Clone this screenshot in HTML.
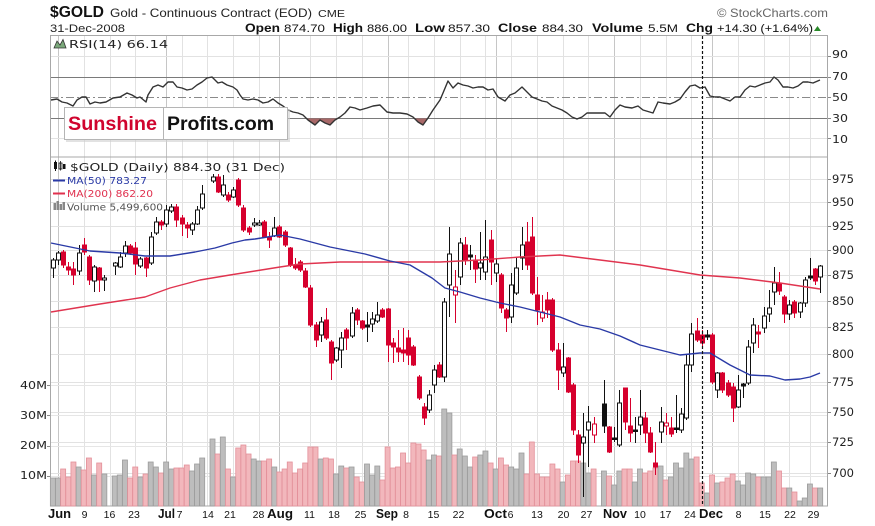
<!DOCTYPE html>
<html>
<head>
<meta charset="utf-8">
<style>
  html,body{margin:0;padding:0;background:#fff;}
  svg{display:block;}
  .ls{font-family:"Liberation Sans",Arial,sans-serif;}
  .dv{font-family:"DejaVu Sans",Verdana,sans-serif;}
</style>
</head>
<body>
<svg id="c" width="875" height="526" viewBox="0 0 875 526" xmlns="http://www.w3.org/2000/svg">
  <rect x="0" y="0" width="875" height="526" fill="#fff"/>
  <g id="grid"></g>
  <!-- panel borders -->
  <rect x="50.5" y="35.5" width="777" height="121.5" fill="none" stroke="#a8a8a8" stroke-width="1"/>
  <rect x="50.5" y="157" width="777" height="349" fill="none" stroke="#a8a8a8" stroke-width="1"/>
  <g id="dyn"></g>

  <!-- header -->
  <text class="ls" x="50" y="17" font-size="16" font-weight="bold" fill="#111" textLength="54" lengthAdjust="spacingAndGlyphs">$GOLD</text>
  <text class="ls" x="110" y="17" font-size="12" fill="#222" textLength="202" lengthAdjust="spacingAndGlyphs">Gold - Continuous Contract (EOD)</text>
  <text class="ls" x="318" y="17" font-size="10" fill="#222" textLength="27" lengthAdjust="spacingAndGlyphs">CME</text>
  <text class="ls" x="717" y="17" font-size="12" fill="#666" textLength="111" lengthAdjust="spacingAndGlyphs">© StockCharts.com</text>
  <text class="ls" x="50" y="32" font-size="11" fill="#222" textLength="75" lengthAdjust="spacingAndGlyphs">31-Dec-2008</text>
  <g class="ls" fill="#111">
    <text x="245" y="32" font-size="12" font-weight="bold" textLength="35" lengthAdjust="spacingAndGlyphs">Open</text>
    <text x="284" y="32" font-size="11" textLength="41" lengthAdjust="spacingAndGlyphs">874.70</text>
    <text x="333" y="32" font-size="12" font-weight="bold" textLength="30" lengthAdjust="spacingAndGlyphs">High</text>
    <text x="367" y="32" font-size="11" textLength="40" lengthAdjust="spacingAndGlyphs">886.00</text>
    <text x="415" y="32" font-size="12" font-weight="bold" textLength="30" lengthAdjust="spacingAndGlyphs">Low</text>
    <text x="448" y="32" font-size="11" textLength="42" lengthAdjust="spacingAndGlyphs">857.30</text>
    <text x="498" y="32" font-size="12" font-weight="bold" textLength="39" lengthAdjust="spacingAndGlyphs">Close</text>
    <text x="542" y="32" font-size="11" textLength="41" lengthAdjust="spacingAndGlyphs">884.30</text>
    <text x="592" y="32" font-size="12" font-weight="bold" textLength="51" lengthAdjust="spacingAndGlyphs">Volume</text>
    <text x="648" y="32" font-size="11" textLength="30" lengthAdjust="spacingAndGlyphs">5.5M</text>
    <text x="686" y="32" font-size="12" font-weight="bold" textLength="27" lengthAdjust="spacingAndGlyphs">Chg</text>
    <text x="717" y="32" font-size="11" textLength="96" lengthAdjust="spacingAndGlyphs">+14.30 (+1.64%)</text>
  </g>
  <polygon points="814,31 821,31 817.5,26" fill="#2a8a2a"/>

  <!-- RSI label -->
  <polygon points="54,48 57,41 60,45 63,39.5 66,48" fill="#7aa87a" stroke="#333" stroke-width="0.8"/>
  <text class="dv" x="69" y="48" font-size="11" fill="#222" textLength="99" lengthAdjust="spacingAndGlyphs">RSI(14) 66.14</text>

  <!-- RSI axis -->
  <g class="dv" font-size="11" fill="#222">
    <text x="832" y="58" textLength="16" lengthAdjust="spacingAndGlyphs">90</text>
    <text x="832" y="80" textLength="16" lengthAdjust="spacingAndGlyphs">70</text>
    <text x="832" y="101" textLength="16" lengthAdjust="spacingAndGlyphs">50</text>
    <text x="832" y="122" textLength="16" lengthAdjust="spacingAndGlyphs">30</text>
    <text x="832" y="143" textLength="16" lengthAdjust="spacingAndGlyphs">10</text>
  </g>

  <!-- price axis -->
  <g class="dv" font-size="11.5" fill="#222">
    <text x="832" y="183" textLength="22" lengthAdjust="spacingAndGlyphs">975</text>
    <text x="832" y="206" textLength="22" lengthAdjust="spacingAndGlyphs">950</text>
    <text x="832" y="230" textLength="22" lengthAdjust="spacingAndGlyphs">925</text>
    <text x="832" y="254" textLength="22" lengthAdjust="spacingAndGlyphs">900</text>
    <text x="832" y="279" textLength="22" lengthAdjust="spacingAndGlyphs">875</text>
    <text x="832" y="305" textLength="22" lengthAdjust="spacingAndGlyphs">850</text>
    <text x="832" y="331" textLength="22" lengthAdjust="spacingAndGlyphs">825</text>
    <text x="832" y="358" textLength="22" lengthAdjust="spacingAndGlyphs">800</text>
    <text x="832" y="386" textLength="22" lengthAdjust="spacingAndGlyphs">775</text>
    <text x="832" y="416" textLength="22" lengthAdjust="spacingAndGlyphs">750</text>
    <text x="832" y="446" textLength="22" lengthAdjust="spacingAndGlyphs">725</text>
    <text x="832" y="477" textLength="22" lengthAdjust="spacingAndGlyphs">700</text>
  </g>

  <!-- volume axis -->
  <g class="dv" font-size="11" fill="#222">
    <text x="20" y="389" textLength="27" lengthAdjust="spacingAndGlyphs">40M</text>
    <text x="20" y="419" textLength="27" lengthAdjust="spacingAndGlyphs">30M</text>
    <text x="20" y="449" textLength="27" lengthAdjust="spacingAndGlyphs">20M</text>
    <text x="20" y="479" textLength="27" lengthAdjust="spacingAndGlyphs">10M</text>
  </g>

  <!-- date axis -->
  <g class="ls" fill="#111" text-anchor="middle">
    <text x="59.5" y="518" font-size="12.5" font-weight="bold" textLength="23" lengthAdjust="spacingAndGlyphs">Jun</text>
    <text x="84.5" y="518" font-size="10.5">9</text>
    <text x="109.5" y="518" font-size="10.5">16</text>
    <text x="134" y="518" font-size="10.5">23</text>
    <text x="166.5" y="518" font-size="12.5" font-weight="bold" textLength="17" lengthAdjust="spacingAndGlyphs">Jul</text>
    <text x="179.5" y="518" font-size="10.5">7</text>
    <text x="208" y="518" font-size="10.5">14</text>
    <text x="230" y="518" font-size="10.5">21</text>
    <text x="258.5" y="518" font-size="10.5">28</text>
    <text x="280" y="518" font-size="12.5" font-weight="bold" textLength="26" lengthAdjust="spacingAndGlyphs">Aug</text>
    <text x="309.5" y="518" font-size="10.5">11</text>
    <text x="334" y="518" font-size="10.5">18</text>
    <text x="360.5" y="518" font-size="10.5">25</text>
    <text x="387" y="518" font-size="12.5" font-weight="bold" textLength="22" lengthAdjust="spacingAndGlyphs">Sep</text>
    <text x="406" y="518" font-size="10.5">8</text>
    <text x="433.5" y="518" font-size="10.5">15</text>
    <text x="458.5" y="518" font-size="10.5">22</text>
    <text x="495.5" y="518" font-size="12.5" font-weight="bold" textLength="23" lengthAdjust="spacingAndGlyphs">Oct</text>
    <text x="510.5" y="518" font-size="10.5">6</text>
    <text x="537" y="518" font-size="10.5">13</text>
    <text x="563.5" y="518" font-size="10.5">20</text>
    <text x="586.5" y="518" font-size="10.5">27</text>
    <text x="615" y="518" font-size="12.5" font-weight="bold" textLength="24" lengthAdjust="spacingAndGlyphs">Nov</text>
    <text x="640" y="518" font-size="10.5">10</text>
    <text x="665.5" y="518" font-size="10.5">17</text>
    <text x="690" y="518" font-size="10.5">24</text>
    <text x="711" y="518" font-size="12.5" font-weight="bold" textLength="24" lengthAdjust="spacingAndGlyphs">Dec</text>
    <text x="738.5" y="518" font-size="10.5">8</text>
    <text x="765" y="518" font-size="10.5">15</text>
    <text x="790" y="518" font-size="10.5">22</text>
    <text x="813.5" y="518" font-size="10.5">29</text>
  </g>

  <!-- legend -->
  <g>
    <rect x="54" y="162" width="3" height="7" fill="#111"/>
    <line x1="55.5" y1="160.5" x2="55.5" y2="171" stroke="#111"/>
    <rect x="59" y="163" width="3" height="6" fill="#fff" stroke="#111" stroke-width="0.8"/>
    <line x1="60.5" y1="161" x2="60.5" y2="170.5" stroke="#111" stroke-width="0.8"/>
    <rect x="63" y="164" width="2.5" height="5" fill="#111"/>
    <text class="dv" x="70" y="171" font-size="11" fill="#222" textLength="215" lengthAdjust="spacingAndGlyphs">$GOLD (Daily) 884.30 (31 Dec)</text>
    <line x1="53" y1="180.5" x2="65" y2="180.5" stroke="#2a3aa6" stroke-width="2"/>
    <text class="dv" x="67" y="184" font-size="9.5" fill="#2a3aa6" textLength="80" lengthAdjust="spacingAndGlyphs">MA(50) 783.27</text>
    <line x1="53" y1="193.5" x2="65" y2="193.5" stroke="#e0304e" stroke-width="2"/>
    <text class="dv" x="67" y="197" font-size="9.5" fill="#e0304e" textLength="86" lengthAdjust="spacingAndGlyphs">MA(200) 862.20</text>
    <rect x="53.5" y="203" width="2.5" height="7" fill="#888"/>
    <rect x="56.5" y="201" width="2.5" height="9" fill="#888"/>
    <rect x="59.5" y="204" width="2.5" height="6" fill="#888"/>
    <rect x="62.5" y="202" width="2.5" height="8" fill="#888"/>
    <text class="dv" x="67" y="210.5" font-size="9.5" fill="#555" textLength="96" lengthAdjust="spacingAndGlyphs">Volume 5,499,600</text>
  </g>

  <!-- dashed vertical -->
  <line x1="702.5" y1="36" x2="702.5" y2="506" stroke="#111" stroke-width="1.2" stroke-dasharray="3,2"/>

  <!-- logo box -->
  <rect x="66" y="109" width="224" height="33" fill="#cfcfcf" opacity="0.6"/>
  <rect x="64.5" y="107.5" width="223" height="32" fill="#fff" stroke="#b5b5b5" stroke-width="1"/>
  <line x1="163.5" y1="108" x2="163.5" y2="139" stroke="#b5b5b5" stroke-width="1"/>
  <text class="ls" x="68" y="130" font-size="19.5" font-weight="bold" fill="#d0042e" textLength="89" lengthAdjust="spacingAndGlyphs">Sunshine</text>
  <text class="ls" x="167" y="130" font-size="19.5" font-weight="bold" fill="#111" textLength="107" lengthAdjust="spacingAndGlyphs">Profits.com</text>
</svg>

<script>
(function(){
var NS="http://www.w3.org/2000/svg";
function el(parent,tag,attrs){var e=document.createElementNS(NS,tag);for(var k in attrs)e.setAttribute(k,attrs[k]);parent.appendChild(e);return e;}
var grid=document.getElementById('grid');
var dyn=document.getElementById('dyn');
function X(i){return 58+5.15*i;}

// vertical grid
var months=[0,21,43,64,85,108,127];
var weeks=[5,10,15,24,29,34,39,49,54,59,68,73,78,83,88,93,98,103,113,118,123,132,137,142,146];
weeks.forEach(function(i){var x=Math.round(X(i))+0.5;el(grid,'line',{x1:x,y1:36,x2:x,y2:506,stroke:'#e2e2e2','stroke-width':1});});
months.forEach(function(i){var x=Math.round(X(i))+0.5;el(grid,'line',{x1:x,y1:36,x2:x,y2:506,stroke:'#c6c6c6','stroke-width':1});});
// horizontal price grid
[179,202,226,250,275,301,327,354,382,412,442,473].forEach(function(y){
  el(grid,'line',{x1:50,y1:y+0.5,x2:828,y2:y+0.5,stroke:'#e2e2e2','stroke-width':1});
  el(grid,'line',{x1:828,y1:y+0.5,x2:831,y2:y+0.5,stroke:'#888','stroke-width':1});
});
[385,415,446,476].forEach(function(y){
  el(grid,'line',{x1:50,y1:y+0.5,x2:828,y2:y+0.5,stroke:'#e6e6e6','stroke-width':1});
  el(grid,'line',{x1:47,y1:y+0.5,x2:50,y2:y+0.5,stroke:'#888','stroke-width':1});
});
// RSI grid
[56,138].forEach(function(y){el(grid,'line',{x1:50,y1:y+0.5,x2:828,y2:y+0.5,stroke:'#e2e2e2','stroke-width':1});});
[77,118].forEach(function(y){el(grid,'line',{x1:50,y1:y+0.5,x2:828,y2:y+0.5,stroke:'#7a7a7a','stroke-width':1});});
el(grid,'line',{x1:50,y1:97.5,x2:828,y2:97.5,stroke:'#8a8a8a','stroke-width':1,'stroke-dasharray':'8,3,2,3'});
[56,77,97,118,138].forEach(function(y){el(grid,'line',{x1:828,y1:y+0.5,x2:831,y2:y+0.5,stroke:'#888','stroke-width':1});});

// volume
var vol="478g 478g 469p 477p 462p 467g 470p 458p 475g 463p 474g - 476g 475g 460g 478p 467p 477g 474p 462g 467g 473p 462g 469g 468p 468p 465p 471g 464g 458g - 439g 454p 437g 469p 477g 448p 445p 454p 459g 461g 461p 459p 467g 472p 469p 462p 473p 469p 463p 447p 447p 459g 458p 459p 474g 466g 468p 467g 477p 482p 464g 475g 466g 480p 447p 468p 467p 453p 463p 443p 444p 450p 460g 455g 456p 409g 413g 455p 449g 456g 467g 457p 455g 451g 463p 469g 458p 465p 467g 469g 453g 474p 442p 474p 477p 477p 464p 469p 482g 475p 461p 461p 463g 473g 469p - 471g 476p 485g 471g 469p 469p 482g 469g 473p 471p 468p 466g 480p 477g 463g 468g 453g 459g 457p 483p 493g 475p 483g 482p 478p 474p 481g 485g 473g 474g 477p 477g 477g 462g 471p 488p 488g 492p 501g 498g 484g 488p 488g".split(' ');
vol.forEach(function(v,k){
  if(v==='-')return;
  var i=k-1, top=parseFloat(v), c=v.slice(-1);
  var x=X(i)-2.5;
  el(dyn,'rect',{x:x.toFixed(2),y:top,width:5,height:506-top,
    fill:c==='g'?'#bdbdbd':'#f2b7bc',stroke:c==='g'?'#9c9c9c':'#e3909a','stroke-width':0.8});
});

// RSI fill + line
var rsi=[[51,100],[57,99],[62,102],[67,103],[73,106],[77,100],[82,97],[86,97],[90,104],[95,102],[100,103],[106,102],[113,98],[120,97],[127,93],[132,95],[137,98],[140,97],[146,102],[148,95],[153,87],[158,85],[163,87],[168,82],[173,82],[177,87],[182,88],[187,90],[192,89],[197,85],[202,82],[207,78],[212,77],[215,80],[218,83],[222,82],[227,85],[230,86],[233,87],[237,90],[240,95],[243,99],[248,100],[253,99],[258,100],[263,103],[268,102],[273,99],[278,103],[283,106],[288,110],[293,112],[298,113],[303,115],[308,120],[315,125],[320,120],[325,123],[330,125],[335,120],[340,117],[345,113],[350,107],[355,108],[360,110],[367,108],[373,106],[380,105],[387,112],[393,113],[400,113],[407,114],[413,117],[418,122],[423,125],[428,118],[433,110],[440,100],[443,93],[448,81],[453,88],[458,83],[463,85],[468,86],[473,88],[478,87],[483,87],[488,90],[493,89],[498,97],[505,101],[510,95],[515,93],[522,87],[527,92],[532,97],[537,99],[542,101],[547,102],[552,106],[557,108],[562,110],[567,113],[572,117],[577,119],[582,117],[587,113],[593,113],[600,113],[605,113],[610,117],[615,110],[620,105],[625,107],[632,108],[638,106],[643,110],[653,113],[658,102],[663,103],[670,104],[675,102],[680,99],[685,92],[690,86],[695,85],[700,88],[705,87],[710,96],[715,97],[720,97],[725,99],[730,101],[735,97],[740,97],[745,90],[750,86],[755,87],[760,85],[765,83],[770,82],[774,77],[778,80],[783,87],[788,87],[793,88],[798,86],[803,82],[808,82],[813,83],[820,80]];
var defs=el(dyn,'defs',{});
var cp=el(defs,'clipPath',{id:'below30'});
el(cp,'rect',{x:50,y:118.5,width:778,height:38});
var pts=rsi.map(function(p){return p[0]+','+p[1];}).join(' ');
el(dyn,'polygon',{points:'51,118.5 '+pts+' 820,118.5',fill:'#a86868','clip-path':'url(#below30)'});
el(dyn,'polyline',{points:pts,fill:'none',stroke:'#333','stroke-width':1.4,'stroke-linejoin':'round'});

// candles
var C=[[-1,'u',260,268,258,278],[0,'u',253,260,251,265],[1,'d',252,265,250,268],[2,'d',267,270,262,275],[3,'d',269,275,262,285],[4,'u',253,271,245,275],[5,'d',245,252,238,255],[6,'d',257,280,255,285],[7,'u',267,281,265,292],[8,'d',268,280,267,292],[9,'u',278,280,275,291],[11,'u',263,266,262,275],[12,'u',257,267,252,268],[13,'u',246,253,241,257],[14,'d',246,253,244,255],[15,'d',248,264,242,275],[16,'u',259,266,257,268],[17,'d',258,268,257,277],[18,'u',237,263,232,265],[19,'u',222,233,217,235],[20,'d',222,225,220,230],[21,'u',210,224,205,227],[22,'u',207,211,204,213],[23,'d',207,220,204,227],[24,'d',218,224,215,236],[25,'d',225,228,222,238],[26,'u',224,230,222,235],[27,'u',210,224,206,225],[28,'u',194,208,185,210],[30,'u',177,181,174,183],[31,'d',177,192,174,193],[32,'u',185,195,175,197],[33,'d',195,200,192,202],[34,'u',190,197,187,198],[35,'d',180,205,178,207],[36,'d',208,230,205,232],[37,'d',228,232,226,235],[38,'u',223,225,218,227],[39,'u',223,225,220,226],[40,'d',222,237,220,238],[41,'d',237,240,232,248],[42,'u',228,236,217,237],[43,'d',227,237,225,238],[44,'d',232,245,230,247],[45,'d',248,265,247,267],[46,'d',265,268,258,270],[47,'d',262,270,260,272],[48,'d',271,287,268,288],[49,'d',288,325,285,327],[50,'d',325,340,322,347],[51,'u',322,335,317,342],[52,'d',320,338,308,340],[53,'d',342,363,340,380],[54,'u',348,360,347,362],[55,'u',338,350,332,368],[56,'d',330,338,328,350],[57,'u',313,336,307,338],[58,'d',310,320,308,325],[59,'d',321,328,320,330],[60,'k',325,327,312,342],[61,'u',319,324,312,332],[62,'u',315,321,302,323],[63,'d',310,317,308,318],[64,'d',309,345,308,362],[65,'d',343,347,338,363],[66,'d',348,352,330,362],[67,'d',350,353,328,362],[68,'d',338,355,330,365],[69,'d',347,365,345,366],[70,'d',377,398,375,400],[71,'d',407,418,403,425],[72,'u',395,410,390,413],[73,'u',370,385,365,393],[74,'d',365,377,362,378],[75,'u',302,377,298,382],[76,'u',254,285,227,317],[77,'r',287,295,270,323],[78,'u',243,277,238,285],[79,'d',245,260,237,265],[80,'k',255,257,245,270],[81,'d',260,269,255,283],[82,'u',263,268,232,280],[83,'u',257,272,220,280],[84,'d',240,262,230,285],[85,'u',264,273,258,282],[86,'d',275,308,273,313],[87,'d',310,318,308,332],[88,'u',285,317,273,323],[89,'u',268,293,258,295],[90,'u',245,258,227,270],[91,'d',242,265,222,270],[92,'d',237,293,217,295],[93,'d',295,310,277,325],[94,'r',312,318,295,322],[95,'d',300,310,292,318],[96,'d',300,350,298,352],[97,'d',350,370,343,390],[98,'u',367,373,343,377],[99,'d',358,392,357,393],[100,'d',385,430,383,435],[101,'d',435,455,430,463],[102,'u',437,443,413,497],[103,'u',422,430,406,467],[104,'r',424,435,417,443],[106,'k',404,426,380,433],[107,'d',427,452,426,453],[108,'k',438,439,427,442],[109,'u',403,445,390,447],[110,'d',388,422,388,430],[111,'d',426,433,398,442],[112,'k',430,431,417,443],[113,'u',417,425,390,435],[114,'d',418,433,412,443],[115,'d',433,452,427,453],[116,'d',463,467,442,475],[117,'u',422,432,407,443],[118,'r',423,426,413,435],[119,'d',428,434,417,437],[120,'k',428,429,395,433],[121,'u',414,430,408,433],[122,'u',365,418,355,420],[123,'u',334,365,323,372],[124,'d',331,340,318,342],[125,'d',335,343,330,347],[126,'k',335,337,330,340],[127,'d',335,382,333,384],[128,'u',373,390,372,398],[129,'d',373,390,372,393],[130,'d',383,395,380,397],[131,'d',387,408,383,422],[132,'u',390,407,375,408],[133,'k',384,386,383,398],[134,'u',347,383,340,385],[135,'u',325,343,318,353],[136,'d',332,334,325,348],[137,'u',316,328,307,333],[138,'u',308,314,290,322],[139,'u',283,292,267,305],[140,'d',283,291,272,295],[141,'d',297,314,295,323],[142,'u',305,314,300,320],[143,'d',302,313,300,318],[144,'u',303,312,302,318],[145,'u',280,303,277,307],[146,'k',276,278,258,280],[147,'d',269,281,268,285],[148,'u',266,277,265,293]];

// moving averages (drawn, then candles on top? draw MAs after candles)
var ma50=[[51,243],[90,251],[120,253],[145,256],[170,256],[195,252],[215,248],[232,243],[245,240],[255,239],[280,235],[300,239],[330,247],[365,254],[390,261],[410,265],[432,278],[445,288],[460,292],[480,298],[500,303],[520,307],[540,312],[560,317],[580,325],[600,329],[620,336],[640,345],[660,350],[680,355],[690,354],[700,353],[710,353],[730,365],[750,375],[770,376],[785,380],[800,379],[810,377],[820,373]];
var ma200=[[51,312],[100,304],[145,297],[170,288],[200,280],[230,275],[255,271],[280,267],[300,264],[340,262],[380,262],[420,262],[440,262],[480,260],[520,257],[560,255],[600,260],[640,265],[670,270],[700,275],[740,278],[780,283],[820,289]];

C.forEach(function(c){
  var i=c[0],t=c[1],bt=c[2],bb=c[3],wt=c[4],wb=c[5];
  var cx=Math.round(X(i))+0.5;
  if(bb-bt<1.5){bb=bt+1.5;}
  var red='#d6002d';
  var wc=(t==='d'||t==='r')?red:'#111';
  el(dyn,'line',{x1:cx,y1:wt,x2:cx,y2:wb,stroke:wc,'stroke-width':1});
  var fill,stroke;
  if(t==='u'){fill='#fff';stroke='#111';}
  else if(t==='d'){fill=red;stroke=red;}
  else if(t==='k'){fill='#111';stroke='#111';}
  else {fill='#fff';stroke=red;}
  el(dyn,'rect',{x:cx-2,y:bt,width:4,height:bb-bt,fill:fill,stroke:stroke,'stroke-width':1});
});

el(dyn,'polyline',{points:ma200.map(function(p){return p.join(',');}).join(' '),fill:'none',stroke:'#e0344f','stroke-width':1.4,'stroke-linejoin':'round'});
el(dyn,'polyline',{points:ma50.map(function(p){return p.join(',');}).join(' '),fill:'none',stroke:'#2a3aa6','stroke-width':1.4,'stroke-linejoin':'round'});
})();
</script>
</body>
</html>
